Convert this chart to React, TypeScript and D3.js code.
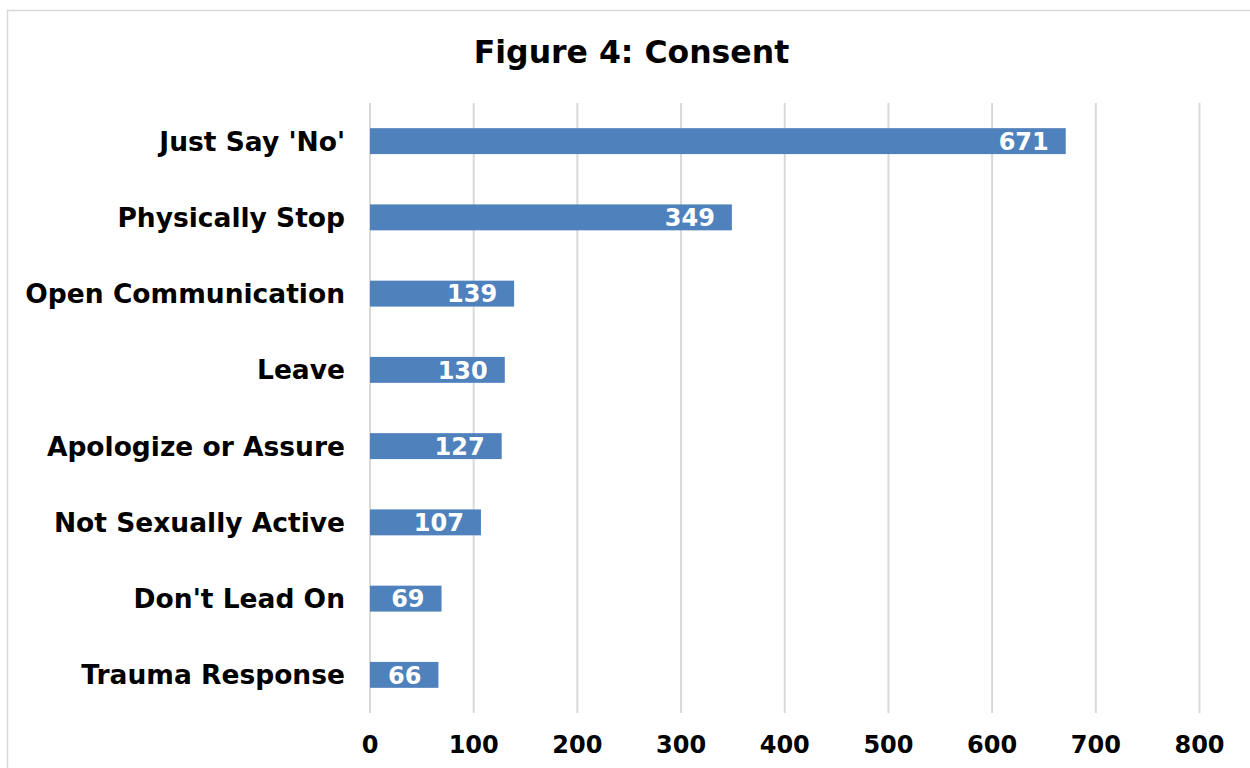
import React from "react";
import * as d3 from "d3";

const categories: string[] = [
  "Just Say 'No'",
  "Physically Stop",
  "Open Communication",
  "Leave",
  "Apologize or Assure",
  "Not Sexually Active",
  "Don't Lead On",
  "Trauma Response",
];
const counts: number[] = [671, 349, 139, 130, 127, 107, 69, 66];
const xTicks: number[] = [0, 100, 200, 300, 400, 500, 600, 700, 800];
const title = "Figure 4: Consent";

const W = 1250;
const H = 768;
const FONT = "'DejaVu Sans', Verdana, sans-serif";
const BAR = "#4f81bd";
const GRID = "#d9d9d9";

export default function App() {
  const x = d3.scaleLinear().domain([0, 800]).range([370, 1199.5]);
  const y = d3
    .scaleBand<string>()
    .domain(categories)
    .range([103, 713])
    .paddingInner(0.66)
    .paddingOuter(0.33);
  const bw = y.bandwidth();

  return (
    <svg
      width={W}
      height={H}
      style={{ position: "absolute", left: 0, top: 0, background: "#fff" }}
      fontFamily={FONT}
    >
      <rect x={7.5} y={10.5} width={W} height={H} fill="#fff" stroke={GRID} strokeWidth={1.5} />
      <text x={631.5} y={63} textAnchor="middle" fontSize={31.5} fontWeight="bold" fill="#000">
        {title}
      </text>
      {xTicks.map((t) => (
        <line key={"g" + t} x1={x(t)} x2={x(t)} y1={103} y2={713} stroke={GRID} strokeWidth={2} />
      ))}
      {categories.map((c, i) => {
        const yc = (y(c) as number) + bw / 2;
        return (
          <g key={c}>
            <rect x={x(0)} y={y(c)} width={x(counts[i]) - x(0)} height={bw} fill={BAR} />
            <text
              x={x(counts[i]) - 17}
              y={yc}
              dy="0.36em"
              textAnchor="end"
              fontSize={24}
              fontWeight="bold"
              fill="#fff"
            >
              {counts[i]}
            </text>
            <text x={345} y={yc} dy="0.36em" textAnchor="end" fontSize={26.5} fontWeight="bold" fill="#000">
              {c}
            </text>
          </g>
        );
      })}
      {xTicks.map((t) => (
        <text key={"t" + t} x={x(t)} y={753} textAnchor="middle" fontSize={24} fontWeight="bold" fill="#000">
          {t}
        </text>
      ))}
    </svg>
  );
}
